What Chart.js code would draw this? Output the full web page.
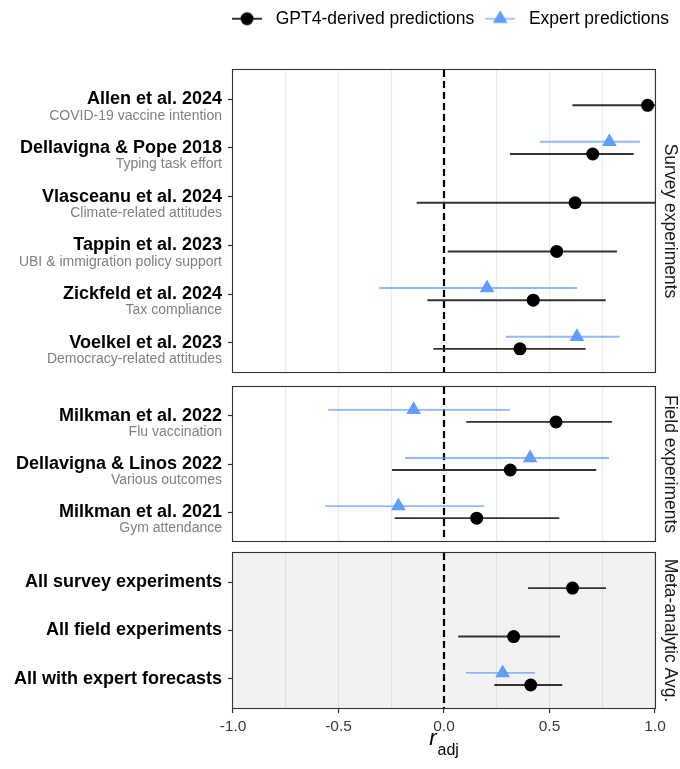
<!DOCTYPE html>
<html>
<head>
<meta charset="utf-8">
<script src="https://cdn.jsdelivr.net/npm/chart.js@4"></script>
<style>
html,body{margin:0;padding:0;background:#fff;}
#wrap{position:relative;width:680px;height:769px;overflow:hidden;background:#fff;}
.pc{position:absolute;left:0;width:680px;}
</style>
</head>
<body>
<div id="wrap">
  <div class="pc" style="top:0px;height:376px;width:900px"><canvas id="c1"></canvas></div>
  <div class="pc" style="top:383px;height:162px"><canvas id="c2"></canvas></div>
  <div class="pc" style="top:549px;height:220px"><canvas id="c3"></canvas></div>
</div>
<script>
// ---------- data ----------
const surveyStudies = ['Allen et al. 2024', 'Dellavigna & Pope 2018', 'Vlasceanu et al. 2024', 'Tappin et al. 2023', 'Zickfeld et al. 2024', 'Voelkel et al. 2023'];
const surveyOutcomes = ['COVID-19 vaccine intention', 'Typing task effort', 'Climate-related attitudes', 'UBI & immigration policy support', 'Tax compliance', 'Democracy-related attitudes'];
const surveyGpt      = [0.965, 0.705, 0.621, 0.534, 0.423, 0.360];
const surveyGptLow   = [0.610, 0.314, -0.128, 0.019, -0.077, -0.049];
const surveyGptHigh  = [1.000, 0.897, 1.000, 0.818, 0.765, 0.670];
const surveyExpert     = [null, 0.784, null, null, 0.204, 0.630];
const surveyExpertLow  = [null, 0.456, null, null, -0.306, 0.294];
const surveyExpertHigh = [null, 0.927, null, null, 0.630, 0.831];

const fieldStudies = ['Milkman et al. 2022', 'Dellavigna & Linos 2022', 'Milkman et al. 2021'];
const fieldOutcomes = ['Flu vaccination', 'Various outcomes', 'Gym attendance'];
const fieldGpt      = [0.531, 0.314, 0.155];
const fieldGptLow   = [0.107, -0.245, -0.232];
const fieldGptHigh  = [0.795, 0.720, 0.545];
const fieldExpert     = [-0.144, 0.408, -0.216];
const fieldExpertLow  = [-0.547, -0.183, -0.562];
const fieldExpertHigh = [0.311, 0.780, 0.190];

const metaLabels = ['All survey experiments', 'All field experiments', 'All with expert forecasts'];
const metaOutcomes = [null, null, null];
const metaGpt      = [0.609, 0.330, 0.411];
const metaGptLow   = [0.400, 0.069, 0.240];
const metaGptHigh  = [0.766, 0.548, 0.559];
const metaExpert     = [null, null, 0.278];
const metaExpertLow  = [null, null, 0.105];
const metaExpertHigh = [null, null, 0.429];

const panelNames = ['Survey experiments', 'Field experiments', 'Meta-analytic Avg.'];
const seriesNames = ['GPT4-derived predictions', 'Expert predictions'];
const xTickValues = [-1.0, -0.5, 0.0, 0.5, 1.0];

// ---------- style ----------
const FONT = "'Liberation Sans', Arial, Helvetica, sans-serif";
Chart.defaults.font.family = FONT;
Chart.defaults.color = '#000';
const BLUE = '#619CFF';
const BLUE_LINE = 'rgba(97,156,255,0.7)';
const GPT_LINE = '#333333';
const DODGE = 0.125;

function keyImage(kind) {
  const c = document.createElement('canvas');
  c.width = 36; c.height = 20;
  const g = c.getContext('2d');
  const col = kind === 'gpt' ? '#000' : BLUE;
  g.strokeStyle = kind === 'gpt' ? '#000' : BLUE_LINE;
  g.lineWidth = 1.6;
  g.beginPath(); g.moveTo(1, 10); g.lineTo(31, 10); g.stroke();
  g.fillStyle = col;
  g.beginPath();
  if (kind === 'gpt') {
    g.arc(16, 10, 6.5, 0, Math.PI * 2);
  } else {
    const r = 8.5, s = Math.sin(2 * Math.PI / 3), co = Math.cos(2 * Math.PI / 3);
    g.moveTo(16, 10 - r);
    g.lineTo(16 + r * s, 10 - r * co);
    g.lineTo(16 - r * s, 10 - r * co);
    g.closePath();
  }
  g.fill();
  return c;
}

function isMajor(v) { return Math.abs(v * 2 - Math.round(v * 2)) < 1e-9; }

function makePanel(id, p) {
  const n = p.labels.length;
  const gptCI = [], gptPts = [], expCI = [], expPts = [];
  for (let i = 0; i < n; i++) {
    gptCI.push({x: [p.gptLow[i], p.gptHigh[i]], y: i + DODGE});
    gptPts.push({x: p.gpt[i], y: i + DODGE});
    if (p.exp[i] != null) {
      expCI.push({x: [p.expLow[i], p.expHigh[i]], y: i - DODGE});
      expPts.push({x: p.exp[i], y: i - DODGE});
    }
  }
  const gridCol = p.shaded ? '#e0e0e0' : '#ebebeb';

  const plugin = {
    id: 'panelDeco' + id,
    beforeDraw(chart) {
      if (!p.shaded) return;
      const a = chart.chartArea, ctx = chart.ctx;
      ctx.save();
      ctx.fillStyle = '#f2f2f2';
      ctx.fillRect(a.left, a.top, a.right - a.left, a.bottom - a.top);
      ctx.restore();
    },
    beforeDatasetsDraw(chart) {
      const a = chart.chartArea, ctx = chart.ctx;
      const x0 = chart.scales.x.getPixelForValue(0);
      ctx.save();
      ctx.strokeStyle = '#000';
      ctx.lineWidth = 2.2;
      ctx.setLineDash([7, 4]);
      ctx.beginPath();
      ctx.moveTo(x0, a.top);
      ctx.lineTo(x0, a.bottom);
      ctx.stroke();
      ctx.restore();
    },
    afterDraw(chart) {
      const a = chart.chartArea, ctx = chart.ctx, ys = chart.scales.y;
      ctx.save();
      ctx.font = '14px ' + FONT;
      ctx.fillStyle = '#808080';
      ctx.textAlign = 'right';
      ctx.textBaseline = 'middle';
      for (let i = 0; i < n; i++) {
        if (p.sub && p.sub[i]) ctx.fillText(p.sub[i], ys.right - 11, ys.getPixelForValue(i) + 16.5);
      }
      ctx.strokeStyle = '#333';
      ctx.lineWidth = 1.1;
      ctx.strokeRect(a.left - 0.5, a.top - 0.5, a.right - a.left + 1, a.bottom - a.top + 1);
      if (p.last) {
        ctx.fillStyle = '#000';
        ctx.textAlign = 'left';
        ctx.textBaseline = 'alphabetic';
        ctx.font = 'italic 22px ' + FONT;
        const rW = ctx.measureText('r').width;
        ctx.font = '16px ' + FONT;
        const aW = ctx.measureText('adj').width;
        const cx = (a.left + a.right) / 2;
        const sx = cx - (rW + 1 + aW) / 2;
        ctx.font = 'italic 22px ' + FONT;
        ctx.fillText('r', sx, a.bottom + 37);
        ctx.font = '16px ' + FONT;
        ctx.fillText('adj', sx + rW + 1, a.bottom + 47);
      }
      ctx.restore();
    }
  };

  const cfg = {
    type: 'bar',
    data: {
      datasets: [
        {type: 'bar', label: 'Expert interval', data: expCI, backgroundColor: BLUE_LINE, borderWidth: 0,
         barThickness: 1.3, grouped: false, borderSkipped: false, order: 4},
        {type: 'bar', label: 'GPT4 interval', data: gptCI, backgroundColor: GPT_LINE, borderWidth: 0,
         barThickness: 1.3, grouped: false, borderSkipped: false, order: 3},
        {type: 'scatter', label: seriesNames[1], data: expPts, pointStyle: 'triangle', pointRadius: 8.5,
         pointHoverRadius: 8.5, backgroundColor: BLUE, borderColor: BLUE, borderWidth: 0, order: 2},
        {type: 'scatter', label: seriesNames[0], data: gptPts, pointStyle: 'circle', pointRadius: 6.5,
         pointHoverRadius: 6.5, backgroundColor: '#000', borderColor: '#000', borderWidth: 0, order: 1}
      ]
    },
    options: {
      indexAxis: 'y',
      responsive: true,
      maintainAspectRatio: false,
      animation: false,
      devicePixelRatio: 1,
      events: [],
      layout: {autoPadding: false, padding: p.padding},
      scales: {
        x: {
          type: 'linear', min: -1, max: 1, offset: false,
          position: p.first ? 'top' : 'bottom',
          afterFit: s => { s.height = p.xHeight; s.paddingLeft = 0; s.paddingRight = 0; },
          ticks: {
            display: !!p.last, stepSize: 0.25, autoSkip: false, maxRotation: 0, minRotation: 0,
            padding: 4, color: '#3a3a3a', font: {size: 15.5},
            callback: v => (isMajor(v) && xTickValues.indexOf(Math.round(v * 2) / 2) >= 0) ? (Math.round(v * 2) / 2).toFixed(1) : ''
          },
          grid: {
            offset: false, color: gridCol, lineWidth: 1.1,
            drawTicks: !!p.last, tickLength: 5, tickWidth: 1.2,
            tickColor: c => (c.tick && isMajor(c.tick.value)) ? '#333' : 'rgba(0,0,0,0)'
          },
          border: {display: false}
        },
        y: {
          type: 'linear', reverse: true, min: -0.6, max: n - 0.4, position: 'left', offset: false,
          afterFit: s => { s.width = p.yWidth; s.paddingTop = 0; s.paddingBottom = 0; },
          afterBuildTicks: s => { s.ticks = p.labels.map((_, i) => ({value: i})); },
          ticks: {
            autoSkip: false, padding: 6, color: '#000',
            font: {size: 18, weight: 'bold'},
            callback: v => p.labels[v]
          },
          grid: {offset: false, drawOnChartArea: false, drawTicks: true, tickLength: 5, color: '#333', tickColor: '#333', tickWidth: 1.2},
          border: {display: false}
        },
        strip: {
          type: 'linear', position: 'right', display: true,
          afterFit: s => { s.width = p.stripWidth; s.paddingTop = 0; s.paddingBottom = 0; },
          ticks: {display: false},
          grid: {display: false},
          border: {display: false},
          title: {display: true, text: p.strip, color: '#1a1a1a', font: {size: 17.5}, padding: {top: p.stripWidth - 25, bottom: 0}}
        }
      },
      plugins: {
        tooltip: {enabled: false},
        legend: p.first ? {
          display: true, position: 'top', align: 'center', fullSize: true,
          labels: {
            usePointStyle: true, pointStyleWidth: 36, padding: 10, color: '#000',
            font: {size: 17.5},
            generateLabels: () => [
              {text: seriesNames[0], pointStyle: keyImage('gpt'), fillStyle: '#000', strokeStyle: '#000', lineWidth: 0, hidden: false, datasetIndex: 3, fontColor: '#000'},
              {text: seriesNames[1], pointStyle: keyImage('exp'), fillStyle: BLUE, strokeStyle: BLUE, lineWidth: 0, hidden: false, datasetIndex: 2, fontColor: '#000'}
            ]
          }
        } : {display: false}
      }
    },
    plugins: [plugin]
  };
  return new Chart(document.getElementById(id), cfg);
}

makePanel('c1', {
  labels: surveyStudies, sub: surveyOutcomes,
  gpt: surveyGpt, gptLow: surveyGptLow, gptHigh: surveyGptHigh,
  exp: surveyExpert, expLow: surveyExpertLow, expHigh: surveyExpertHigh,
  strip: panelNames[0], first: true, last: false, shaded: false,
  padding: {left: 0, right: 0, top: 0, bottom: 4}, yWidth: 233, xHeight: 32.5, stripWidth: 245
});
makePanel('c2', {
  labels: fieldStudies, sub: fieldOutcomes,
  gpt: fieldGpt, gptLow: fieldGptLow, gptHigh: fieldGptHigh,
  exp: fieldExpert, expLow: fieldExpertLow, expHigh: fieldExpertHigh,
  strip: panelNames[1], first: false, last: false, shaded: false,
  padding: {left: 0, right: 0, top: 4, bottom: 4}, yWidth: 233, xHeight: 0, stripWidth: 25
});
makePanel('c3', {
  labels: metaLabels, sub: metaOutcomes,
  gpt: metaGpt, gptLow: metaGptLow, gptHigh: metaGptHigh,
  exp: metaExpert, expLow: metaExpertLow, expHigh: metaExpertHigh,
  strip: panelNames[2], first: false, last: true, shaded: true,
  padding: {left: 0, right: 0, top: 4, bottom: 0}, yWidth: 233, xHeight: 61, stripWidth: 25
});
</script>
</body>
</html>
